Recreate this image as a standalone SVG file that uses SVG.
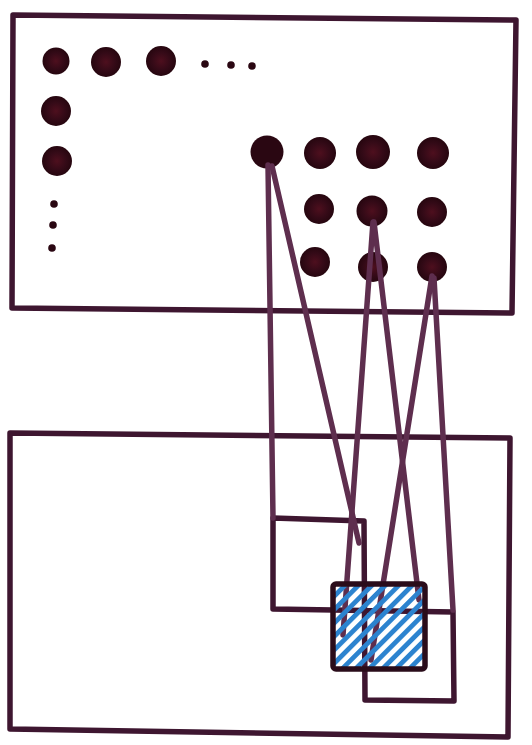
<svg xmlns="http://www.w3.org/2000/svg" width="532" height="745" viewBox="0 0 532 745">
<style>
.frame{fill:none;stroke:#3e1630;stroke-width:5.5;stroke-linejoin:round;stroke-linecap:round}
.wire{fill:none;stroke:#5e2e4e;stroke-width:5.5;stroke-linecap:round}
.big{fill:url(#dotg)}
.small{fill:#2a0712}
.box{fill:none;stroke:#2a0c1a;stroke-width:5.5;stroke-linejoin:round}
</style>
<defs>
<radialGradient id="dotg" cx="0.5" cy="0.5" r="0.5">
<stop offset="0" stop-color="#4e0f1e"/>
<stop offset="0.6" stop-color="#340a17"/>
<stop offset="1" stop-color="#26060f"/>
</radialGradient>
<pattern id="hatch" patternUnits="userSpaceOnUse" width="9.5" height="9.5" patternTransform="rotate(45)">
<rect x="0" y="0" width="4.8" height="9.5" fill="#2c83cf"/>
</pattern>
</defs>
<rect x="0" y="0" width="532" height="745" fill="#ffffff"/>
<g id="top-panel">
<path class="frame" d="M13,15 L516,20 L512,313 L12,308 Z"/>
</g>
<g id="row-dots">
<circle class="big" cx="56" cy="61" r="13.5"/>
<circle class="big" cx="106" cy="62" r="15"/>
<circle class="big" cx="161" cy="61" r="15"/>
<circle class="small" cx="205" cy="64" r="3.8"/>
<circle class="small" cx="231" cy="65" r="3.8"/>
<circle class="small" cx="252" cy="66" r="3.8"/>
</g>
<g id="column-dots">
<circle class="big" cx="56" cy="111" r="15"/>
<circle class="big" cx="57" cy="161" r="15"/>
<circle class="small" cx="54" cy="204" r="3.8"/>
<circle class="small" cx="53" cy="225" r="3.8"/>
<circle class="small" cx="52" cy="248" r="3.8"/>
</g>
<g id="grid-dots">
<circle class="small" cx="267" cy="152" r="16.5"/>
<circle class="big" cx="320" cy="153" r="16"/>
<circle class="big" cx="373" cy="152" r="17"/>
<circle class="big" cx="433" cy="153" r="16"/>
<circle class="big" cx="319" cy="209" r="15"/>
<circle class="big" cx="372" cy="211" r="15.5"/>
<circle class="big" cx="432" cy="212" r="15"/>
<circle class="big" cx="315" cy="262" r="15"/>
<circle class="big" cx="373" cy="267" r="15"/>
<circle class="big" cx="432" cy="267" r="15"/>
</g>
<g id="bottom-panel">
<path class="frame" d="M10,433 L510,438 L508,737 L10,729 Z"/>
</g>
<g id="stepped-frames">
<path class="frame" d="M273,518 L364,521 L365,700 L454,701 L453,612 L273,609 Z"/>
</g>
<g id="connectors">
<path class="wire" d="M268,165 L273,518"/>
<path class="wire" d="M272,166 L359,543"/>
<path class="wire" d="M373,222 L343,635"/>
<path class="wire" d="M374,222 L419,600"/>
<path class="wire" d="M432,276 L371,660"/>
<path class="wire" d="M434,278 L453,610"/>
</g>
<g id="hatched-square">
<rect x="335" y="586" width="88" height="81" fill="url(#hatch)"/>
<rect class="box" x="333" y="584" width="92" height="85" rx="3"/>
</g>
</svg>
